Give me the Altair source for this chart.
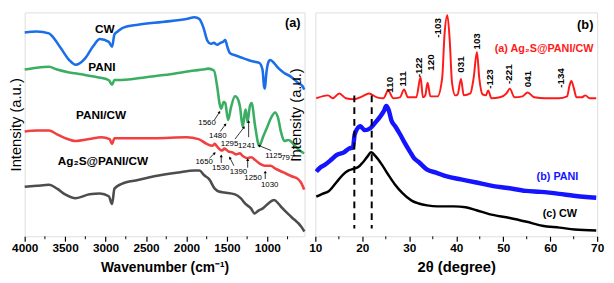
import math
import altair as alt
import pandas as pd

# ---------------- Panel (a): FTIR ----------------
cw_wn = [4000, 3850, 3700, 3650, 3550, 3450, 3370, 3250, 3150, 3070, 2960, 2920, 2890, 2850, 2780, 2600, 2300, 2000, 1900, 1840, 1790, 1740, 1700, 1660, 1620, 1580, 1550, 1520, 1495, 1460, 1400, 1300, 1200, 1100, 1060, 1040, 1030, 1015, 990, 965, 930, 870, 800, 700, 620, 560, 545]
cw_ir = [214, 215, 213, 209, 197, 185, 180, 187, 200, 207, 204, 199, 212, 215, 219, 222, 225, 228, 230, 228, 219, 205, 202, 203, 201, 203, 204, 206, 199, 192, 190, 187, 184, 182, 175, 157, 155, 169, 182, 185, 183, 177, 172, 167, 161, 157, 154]

pani_wn = [4000, 3850, 3700, 3600, 3450, 3300, 3100, 2960, 2920, 2890, 2800, 2500, 2200, 1900, 1800, 1730, 1660, 1620, 1590, 1570, 1540, 1521, 1485, 1450, 1400, 1370, 1340, 1304, 1280, 1267, 1245, 1215, 1195, 1150, 1100, 1050, 1000, 950, 904, 870, 830, 790, 740, 700, 650, 600, 545]
pani_ir = [175, 177, 178, 175, 172, 170, 167, 164, 159, 164, 164, 167, 170, 174, 175, 176, 174, 157, 139, 134, 141, 140, 122, 135, 147, 145, 137, 115, 129, 133, 120, 137, 140, 115, 95, 105, 115, 125, 130, 125, 109, 100, 101, 99, 94, 90, 87]

pcw_wn = [4000, 3850, 3700, 3600, 3500, 3370, 3200, 3050, 2950, 2920, 2890, 2700, 2400, 2000, 1850, 1750, 1680, 1650, 1620, 1560, 1530, 1480, 1430, 1390, 1340, 1300, 1250, 1200, 1150, 1090, 1030, 960, 900, 800, 700, 620, 575, 545]
pcw_ir = [110, 111, 111, 107, 103, 100, 102, 104, 102, 97, 103, 103, 103, 104, 102, 97, 95, 97, 94, 90, 92, 89, 88, 86, 87, 84, 82, 83, 80, 76, 74, 74, 71, 67, 63, 60, 55, 49]

ag_wn = [4000, 3850, 3700, 3600, 3500, 3370, 3200, 3070, 2960, 2920, 2890, 2800, 2600, 2400, 2100, 1900, 1840, 1780, 1720, 1650, 1600, 1530, 1400, 1330, 1270, 1200, 1160, 1110, 1060, 980, 917, 860, 820, 700, 580, 542]
ag_ir = [52, 53, 54, 50, 44, 40, 44, 45, 42, 34, 50, 55, 59, 63, 67, 69, 69, 64, 60, 50, 47, 46, 44, 40, 34, 29, 24, 27, 29, 35, 38, 34, 30, 20, 10, 5]

ir_series = ["CW", "PANI", "PANI/CW", "Ag2S@PANI/CW"]
ir_colors = ["#1a6fe8", "#3aae62", "#f23f3f", "#4d4d4d"]

ir_label_text = ["CW", "PANI", "PANI/CW", "Ag₂S@PANI/CW"]
ir_label_x = [3009, 3045, 3057, 3033]
ir_label_y = [217, 178, 127, 79]

ann_text = ["1560", "1480", "1295", "1241", "1125", "797", "1650", "1530", "1390", "1250", "1030"]
ann_x = [1745, 1612, 1467, 1256, 923, 748, 1781, 1576, 1358, 1177, 971]
ann_y = [119, 105, 97, 95, 84, 82, 78, 72, 67, 61, 54]

# arrows: start wn, start y, end wn, end y
arr_x1 = [1655, 1582, 1400, 1231, 953, 1715, 1570, 1413, 1243, 1026]
arr_y1 = [122, 110, 102, 104, 90, 82, 77, 74, 72, 60]
arr_x2 = [1594, 1521, 1292, 1231, 1098, 1655, 1570, 1461, 1243, 1026]
arr_y2 = [130, 117, 114, 120, 95, 87, 84, 82, 80, 67]

ir_ticks = [4000, 3500, 3000, 2500, 2000, 1500, 1000]
ir_minor = [3750, 3250, 2750, 2250, 1750, 1250, 750]

# ---------------- Panel (b): XRD ----------------
ag_tt = [10.2, 12.7, 13.7, 15.1, 16.5, 18.2, 20.0, 21.4, 23.1, 24.5, 25.5, 26.6, 28.0, 28.9, 29.7, 31.5, 32.4, 32.9, 33.4, 33.9, 34.5, 36.0, 37.0, 37.5, 38.1, 38.6, 39.1, 39.8, 40.3, 41.0, 41.6, 43.0, 43.7, 44.4, 44.9, 45.6, 46.3, 46.8, 47.5, 49.3, 50.7, 51.4, 52.4, 54.1, 55.2, 56.6, 59.0, 61.8, 63.6, 64.1, 64.5, 65.0, 65.6, 66.7, 67.5, 68.4, 69.8]
ag_int = [143, 146, 143, 148, 143, 142, 145, 148, 144, 143, 151, 143, 144, 152, 144, 144, 165, 144, 146, 159, 145, 145, 164, 209, 229, 204, 159, 146, 147, 163, 146, 148, 164, 191, 164, 147, 146, 151, 143, 144, 148, 153, 144, 145, 149, 144, 143, 143, 145, 156, 161, 154, 144, 144, 146, 143, 143]

pani_tt = [10.2, 11.0, 12.0, 13.3, 14.5, 16.1, 17.2, 18.0, 18.4, 19.6, 20.5, 21.7, 22.8, 23.8, 24.6, 25.1, 25.6, 26.2, 27.0, 28.0, 29.0, 30.1, 31.0, 32.0, 33.8, 35.7, 38.0, 41.0, 44.0, 47.9, 51.0, 54.8, 58.0, 61.9, 65.0, 69.8]
pani_int = [67, 71, 74, 79, 84, 87, 91, 92, 106, 114, 110, 112, 118, 124, 130, 135, 131, 120, 114, 106, 97, 88, 81, 77, 69, 66, 62, 59, 56, 52, 50, 47, 46, 44, 42, 40]

cwx_tt = [10.2, 11.5, 12.9, 14.5, 15.9, 17.0, 18.2, 19.2, 20.0, 21.0, 21.9, 22.8, 24.2, 25.5, 26.9, 28.5, 30.5, 32.0, 33.8, 36.0, 39.5, 42.0, 44.3, 47.0, 51.4, 55.0, 58.3, 62.0, 65.2, 69.8]
cwx_int = [41, 44, 47, 56, 64, 68, 70, 72, 76, 82, 87, 83, 74, 64, 54, 45, 37, 34, 32, 31, 31, 30, 27, 23, 19, 15, 11, 9, 7, 6]

xrd_series = ["Ag2S@PANI/CW", "PANI", "CW"]
xrd_colors = ["#ff1a1a", "#1414ff", "#000000"]
xrd_widths = [2.0, 4.5, 2.5]

hkl_text = ["110", "111", "-122", "120", "-103", "031", "103", "-123", "-221", "041", "-134"]
hkl_x = [25.9, 28.6, 32.0, 34.7, 36.2, 41.0, 44.5, 47.2, 51.2, 55.2, 62.3]
hkl_y = [157, 163, 175, 180, 216, 178, 202, 163, 168, 163, 164]

dash_x = [18.3, 22.0]
dash_y1 = [146]
dash_y2 = [8]

xrd_label_text = ["(a) Ag₂S@PANI/CW", "(b) PANI", "(c) CW"]
xrd_label_x = [69.2, 66.0, 65.7]
xrd_label_y = [194, 61, 23]
xrd_label_colors = ["#ff1a1a", "#1414ff", "#000000"]

xrd_ticks = [10, 20, 30, 40, 50, 60, 70]
xrd_minor = [15, 25, 35, 45, 55, 65]

# ---------------- geometry ----------------
WA, WB, H = 285, 287, 228
XA_DOM = [4000, 540]
YA_DOM = [0, 235]
XB_DOM = [10, 70]
YB_DOM = [0, 232]
FONT = "Liberation Sans"

AXA = alt.Axis(values=ir_ticks, format="d", title="Wavenumber (cm⁻¹)", titleFontSize=14, titleFontWeight="bold",
               labelFontSize=12, labelFontWeight="bold", tickSize=5, tickWidth=1.2, grid=False, domain=False,
               labelPadding=2, titlePadding=7, labelColor="black", titleColor="black", tickColor="black",
               labelFlush=False, labelFont=FONT, titleFont=FONT)
AYA = alt.Axis(labels=False, ticks=False, domain=False, grid=False, title="Intensity (a.u.)",
               titleFontSize=15, titleFontWeight="normal", titlePadding=1, titleColor="black", titleFont=FONT)
AXB = alt.Axis(values=xrd_ticks, format="d", title="2θ (degree)", titleFontSize=15, titleFontWeight="bold",
               labelFontSize=12, labelFontWeight="bold", tickSize=5, tickWidth=1.2, grid=False, domain=False,
               labelPadding=2, titlePadding=6, labelColor="black", titleColor="black", tickColor="black",
               labelFlush=False, labelFont=FONT, titleFont=FONT)
AYB = alt.Axis(labels=False, ticks=False, domain=False, grid=False, title="Intensity (a.u.)",
               titleFontSize=15, titleFontWeight="normal", titlePadding=12, titleColor="black", titleFont=FONT,
               titleY=104)


def xa(f):
    return alt.X(f"{f}:Q", scale=alt.Scale(domain=XA_DOM, nice=False, zero=False), axis=AXA)


def ya(f):
    return alt.Y(f"{f}:Q", scale=alt.Scale(domain=YA_DOM, nice=False, zero=False), axis=AYA)


def xb(f):
    return alt.X(f"{f}:Q", scale=alt.Scale(domain=XB_DOM, nice=False, zero=False), axis=AXB)


def yb(f):
    return alt.Y(f"{f}:Q", scale=alt.Scale(domain=YB_DOM, nice=False, zero=False), axis=AYB)


# ---------------- panel a layers ----------------
ir_rows = []
for name, xs, ys in zip(ir_series, [cw_wn, pani_wn, pcw_wn, ag_wn], [cw_ir, pani_ir, pcw_ir, ag_ir]):
    for a, b in zip(xs, ys):
        ir_rows.append({"x": a, "y": b, "s": name})
ir_df = pd.DataFrame(ir_rows)

ir_lines = alt.Chart(ir_df).mark_line(strokeWidth=2.6, interpolate="monotone").encode(
    x=xa("x"), y=ya("y"),
    color=alt.Color("s:N", scale=alt.Scale(domain=ir_series, range=ir_colors), legend=None),
    detail="s:N",
)

ir_lab_df = pd.DataFrame({"x": ir_label_x, "y": ir_label_y, "t": ir_label_text})
ir_labels = alt.Chart(ir_lab_df).mark_text(fontSize=12, fontWeight="bold", color="black", font=FONT,
                                           align="center", baseline="middle").encode(
    x=xa("x"), y=ya("y"), text="t:N")

ann_df = pd.DataFrame({"x": ann_x, "y": ann_y, "t": ann_text})
ann_labels = alt.Chart(ann_df).mark_text(fontSize=8, color="black", font=FONT,
                                         align="center", baseline="middle").encode(
    x=xa("x"), y=ya("y"), text="t:N")

kxa = -WA / (XA_DOM[0] - XA_DOM[1])
kya = H / (YA_DOM[1] - YA_DOM[0])
angs = []
for x1, y1, x2, y2 in zip(arr_x1, arr_y1, arr_x2, arr_y2):
    sx = (x2 - x1) * kxa
    sy = -(y2 - y1) * kya
    angs.append(math.degrees(math.atan2(sx, -sy)) % 360)
arr_df = pd.DataFrame({"x1": arr_x1, "y1": arr_y1, "x2": arr_x2, "y2": arr_y2, "ang": angs})
arr_lines = alt.Chart(arr_df).mark_rule(color="black", strokeWidth=0.8).encode(
    x=xa("x1"), y=ya("y1"), x2="x2:Q", y2="y2:Q")
arr_heads = alt.Chart(arr_df).mark_point(shape="triangle", filled=True, color="black", size=10, opacity=1).encode(
    x=xa("x2"), y=ya("y2"), angle=alt.Angle("ang:Q", scale=None))

minor_a_df = pd.DataFrame({"x": ir_minor})
minor_a = alt.Chart(minor_a_df).mark_rule(color="black", strokeWidth=1).encode(
    x=xa("x"), y=alt.value(H), y2=alt.value(H + 3))

panel_a_tag = alt.Chart(pd.DataFrame({"x": [590], "y": [224], "t": ["(a)"]})).mark_text(
    fontSize=13, fontWeight="bold", color="black", font=FONT, align="right", baseline="middle").encode(
    x=xa("x"), y=ya("y"), text="t:N")

panel_a = alt.layer(ir_lines, minor_a, arr_lines, arr_heads, ann_labels, ir_labels, panel_a_tag).properties(
    width=WA, height=H)

# ---------------- panel b layers ----------------
xrd_rows = []
for name, xs, ys in zip(xrd_series, [ag_tt, pani_tt, cwx_tt], [ag_int, pani_int, cwx_int]):
    for a, b in zip(xs, ys):
        xrd_rows.append({"x": a, "y": b, "s": name})
xrd_df = pd.DataFrame(xrd_rows)

xrd_layers = []
for name, col, wdt in zip(xrd_series, xrd_colors, xrd_widths):
    xrd_layers.append(
        alt.Chart(xrd_df).transform_filter(alt.datum.s == name).mark_line(
            strokeWidth=wdt, color=col, interpolate="monotone").encode(x=xb("x"), y=yb("y"))
    )

dash_df = pd.DataFrame({"x": dash_x, "y1": dash_y1 * len(dash_x), "y2": dash_y2 * len(dash_x)})
dashes = alt.Chart(dash_df).mark_rule(color="black", strokeWidth=2, strokeDash=[7, 5]).encode(
    x=xb("x"), y=yb("y1"), y2="y2:Q")

hkl_df = pd.DataFrame({"x": hkl_x, "y": hkl_y, "t": hkl_text})
hkl = alt.Chart(hkl_df).mark_text(angle=270, fontSize=10, fontWeight="bold", color="black", font=FONT,
                                  align="center", baseline="middle").encode(x=xb("x"), y=yb("y"), text="t:N")

xl_df = pd.DataFrame({"x": xrd_label_x, "y": xrd_label_y, "t": xrd_label_text, "c": xrd_label_colors})
xl = alt.Chart(xl_df).mark_text(fontSize=11, fontWeight="bold", font=FONT, align="right", baseline="middle").encode(
    x=xb("x"), y=yb("y"), text="t:N", color=alt.Color("c:N", scale=None))

minor_b_df = pd.DataFrame({"x": xrd_minor})
minor_b = alt.Chart(minor_b_df).mark_rule(color="black", strokeWidth=1).encode(
    x=xb("x"), y=alt.value(H), y2=alt.value(H + 3))

panel_b_tag = alt.Chart(pd.DataFrame({"x": [69.2], "y": [219], "t": ["(b)"]})).mark_text(
    fontSize=13, fontWeight="bold", color="black", font=FONT, align="right", baseline="middle").encode(
    x=xb("x"), y=yb("y"), text="t:N")

panel_b = alt.layer(*xrd_layers, dashes, minor_b, hkl, xl, panel_b_tag).properties(width=WB, height=H)

chart = alt.hconcat(panel_a, panel_b, spacing=11, bounds="flush").properties(
    padding={"left": 0, "top": 0, "right": 0, "bottom": 0}
).configure_view(stroke="black", strokeWidth=1.6).configure(font=FONT)

chart.save("out.html", embed_options={"renderer": "svg", "actions": False})
